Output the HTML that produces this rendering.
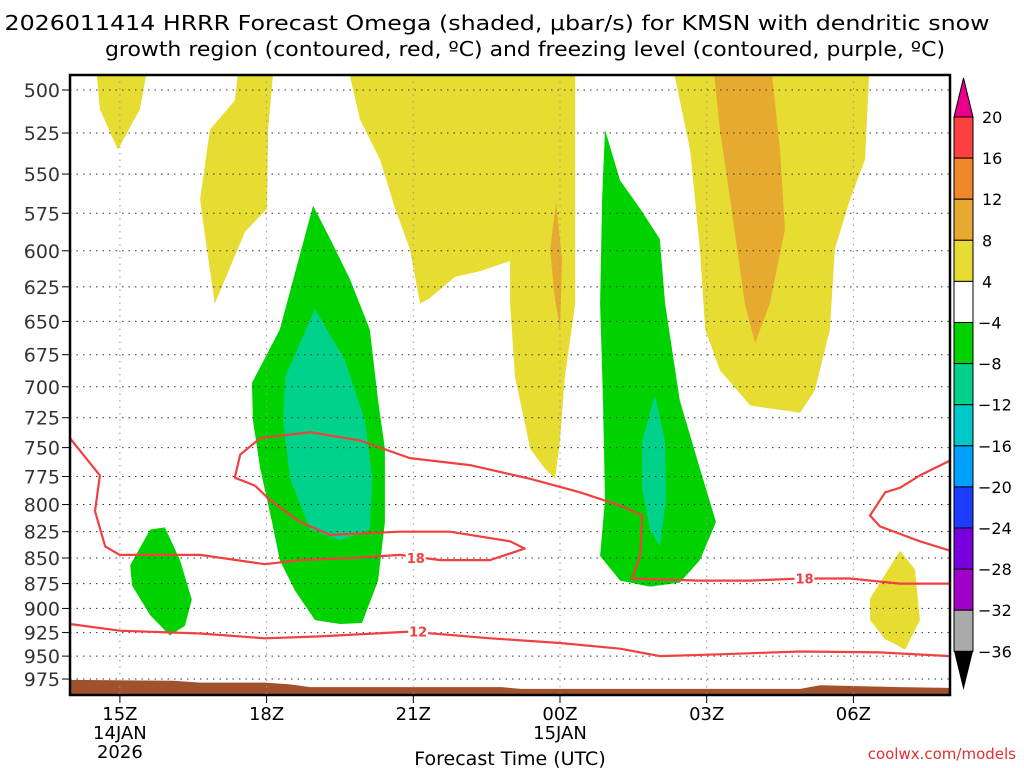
<!DOCTYPE html>
<html><head><meta charset="utf-8"><style>
body{margin:0;background:#fff;}
svg{display:block;font-family:"DejaVu Sans","Liberation Sans",sans-serif;}
</style></head><body>
<svg id="c" width="1024" height="768" viewBox="0 0 1024 768">
<text x="497" y="30" text-anchor="middle" font-size="20" textLength="985" lengthAdjust="spacingAndGlyphs">2026011414 HRRR Forecast Omega (shaded, μbar/s) for KMSN with dendritic snow</text>
<text x="525" y="56" text-anchor="middle" font-size="20" textLength="840" lengthAdjust="spacingAndGlyphs">growth region (contoured, red, ºC) and freezing level (contoured, purple, ºC)</text>
<defs><clipPath id="pc"><rect x="70" y="75" width="880" height="620"/></clipPath></defs>
<g id="shade" clip-path="url(#pc)"></g>
<g id="grid"></g>
<g id="cont" clip-path="url(#pc)"></g>
<rect x="70" y="75" width="880" height="620" fill="none" stroke="#000" stroke-width="2.5"/>
<g id="axes"></g>
<g id="cbar"></g>
<text x="510" y="765" text-anchor="middle" font-size="19">Forecast Time (UTC)</text>
<text x="1016" y="759" text-anchor="end" font-size="15" fill="#e03030">coolwx.com/models</text>
</svg>
<script>
const pLevels=[500,525,550,575,600,625,650,675,700,725,750,775,800,825,850,875,900,925,950,975];
const tHours=[1,4,7,10,13,16];
const tLabels=["15Z","18Z","21Z","00Z","03Z","06Z"];
const tSub=[["14JAN","2026"],[],[],["15JAN"],[],[]];
const cbLevels=["20","16","12","8","4","−4","−8","−12","−16","−20","−24","−28","−32","−36"];
const cbColors=["#ff4040","#f0882a","#e6aa30","#e6dc32","#ffffff","#00d200","#00d28c","#00c8c8","#00a0ff","#1e3cff","#7800dc","#a000c8","#aaaaaa"];
const yelA_h=[0.49,1.62,1.41,0.96,0.59], yelA_p=[480,480,511,535,511];
const yelB_h=[3.46,4.17,4.03,4.01,3.56,2.94,2.74,2.64,2.84,3.35], yelB_p=[480,480,523,572,587,637,590,566,523,506];
const yelC_h=[5.60,5.91,6.32,6.63,6.93,7.14,7.34,7.85,8.36,8.98,8.98,9.08,9.39,9.69,9.90,10.0,10.1,10.31,10.31], yelC_p=[480,517,541,572,599,637,633,618,614,607,637,692,751,768,777,744,692,637,480];
const yelD_h=[12.25,12.66,12.86,12.97,13.27,13.89,14.91,15.21,15.52,15.62,15.93,16.24,16.34], yelD_p=[480,535,599,656,687,715,721,703,656,599,566,541,480];
const yelE_h=[16.34,16.95,17.26,17.36,17.06,16.65,16.34], yelE_p=[890,843,861,912,943,932,912];
const orgC_h=[9.92,10.04,10.0,9.88,9.8], orgC_p=[568,606,657,629,599];
const orgD_h=[13.11,14.29,14.5,14.6,14.29,13.99,13.78,13.48,13.27], orgD_p=[480,480,535,586,637,666,637,566,523];
const grnF_h=[1.21,1.62,1.92,2.23,2.47,2.33,2.02,1.62,1.25], grnF_p=[857,823,821,852,891,918,928,907,877];
const grnG_h=[3.70,4.27,4.95,5.30,5.71,6.11,6.28,6.42,6.42,6.28,5.95,5.50,4.99,4.58,4.27,4.11,3.87,3.72], grnG_p=[697,656,570,592,620,656,711,751,816,872,915,916,912,882,852,816,768,727];
const tealG_h=[4.38,4.99,5.60,6.01,6.16,6.11,5.50,4.89,4.48,4.34], tealG_p=[692,641,679,727,777,823,833,823,777,727];
const grnH_h=[10.92,11.23,11.64,12.04,12.15,12.45,12.86,13.19,12.86,12.45,11.84,11.23,10.82,10.92,10.88,10.82,10.86], grnH_p=[523,554,572,592,637,711,768,816,852,874,878,872,848,796,711,637,566];
const tealH_h=[11.68,11.94,12.15,12.17,12.04,11.84,11.68], tealH_p=[744,707,744,796,839,823,786];
const ter_h=[-0.1,2.1,2.64,3.97,4.48,4.89,8.8,9.2,14.91,15.32,16.95,18.1,18.1,-0.1], ter_p=[976,977,979,979,981,984,984,986,986,982,984,985,1000,1000];
const c18a_h=[-0.02,0.59,0.49,0.70,1.0,2.64,3.97,4.68,5.71,6.73,7.55,8.57,9.28,8.98,7.75,6.73,5.30,4.68,4.07,3.76,3.35,3.46,3.87,4.89,5.91,6.93,8.16,9.39,10.41,11.23,11.68,11.64,11.47,12.86,13.89,14.91,15.93,16.95,17.98];
const c18a_p=[742,774,806,839,847,847,856,852,850,847,852,852,841,834,825,825,828,816,796,783,776,756,742,737,744,759,765,777,789,801,810,848,870,872,872,870,870,875,875];
const c18b_h=[17.98,17.36,16.95,16.65,16.34,16.54,17.36,17.98], c18b_p=[761,774,785,789,810,820,834,843];
const c12_h=[-0.02,1.0,2.64,3.97,5.09,6.93,8.57,10.0,11.23,12.04,13.27,14.91,16.54,17.98];
const c12_p=[916,923,926,931,929,924,931,936,942,950,948,945,946,950];
const X=h=>71+48.9*h, Y=p=>90+882*Math.log(p/500);
const NS="http://www.w3.org/2000/svg";
function mk(tag,parent){const e=document.createElementNS(NS,tag);document.getElementById(parent).appendChild(e);return e;}
function poly(hs,ps,fill,name){const e=mk('polygon','shade');e.setAttribute('points',hs.map((h,i)=>X(h).toFixed(1)+','+Y(ps[i]).toFixed(1)).join(' '));e.setAttribute('fill',fill);

}
poly(yelA_h,yelA_p,'#e6dc32','omega-4-8-region-a');
poly(yelB_h,yelB_p,'#e6dc32','omega-4-8-region-b');
poly(yelC_h,yelC_p,'#e6dc32','omega-4-8-region-c');
poly(yelD_h,yelD_p,'#e6dc32','omega-4-8-region-d');
poly(yelE_h,yelE_p,'#e6dc32','omega-4-8-region-e');
poly(orgC_h,orgC_p,'#e6aa30','omega-8-12-region-c');
poly(orgD_h,orgD_p,'#e6aa30','omega-8-12-region-d');
poly(grnF_h,grnF_p,'#00d200','omega-neg4-region-f');
poly(grnG_h,grnG_p,'#00d200','omega-neg4-region-g');
poly(tealG_h,tealG_p,'#00d28c','omega-neg8-region-g');
poly(grnH_h,grnH_p,'#00d200','omega-neg4-region-h');
poly(tealH_h,tealH_p,'#00d28c','omega-neg8-region-h');
poly(ter_h,ter_p,'#a0522d','terrain');
function line(hs,ps,name){const e=mk('polyline','cont');e.setAttribute('points',hs.map((h,i)=>X(h).toFixed(1)+','+Y(ps[i]).toFixed(1)).join(' '));e.setAttribute('fill','none');e.setAttribute('stroke','#f04040');e.setAttribute('stroke-width','2.2');e.setAttribute('stroke-linejoin','round');

}
line(c18a_h,c18a_p,'contour-minus18-main');
line(c18b_h,c18b_p,'contour-minus18-right');
line(c12_h,c12_p,'contour-minus12');
function clab(h,p,t,name){const r=mk('rect','cont');r.setAttribute('x',X(h)-10);r.setAttribute('y',Y(p)-7);r.setAttribute('width',20);r.setAttribute('height',14);r.setAttribute('fill','#fff');


const e=mk('text','cont');e.setAttribute('x',X(h));e.setAttribute('y',Y(p)+5);e.setAttribute('text-anchor','middle');e.setAttribute('font-size','13');e.setAttribute('font-weight','bold');e.setAttribute('fill','#f04040');e.textContent=t;

}
clab(7.05,850,'18','contour-label-18a');
clab(15.0,870,'18','contour-label-18b');
clab(7.1,924,'12','contour-label-12');
pLevels.forEach(p=>{const y=Y(p);const g=mk('line','grid');g.setAttribute('x1',70);g.setAttribute('x2',950);g.setAttribute('y1',y);g.setAttribute('y2',y);g.setAttribute('stroke','#333');g.setAttribute('stroke-dasharray','1.5 5');


const t=mk('line','axes');t.setAttribute('x1',62);t.setAttribute('x2',70);t.setAttribute('y1',y);t.setAttribute('y2',y);t.setAttribute('stroke','#000');


const l=mk('text','axes');l.setAttribute('x',60);l.setAttribute('y',y+7);l.setAttribute('text-anchor','end');l.setAttribute('font-size','19');l.setAttribute('fill','#333');l.textContent=p;

});
tHours.forEach((h,i)=>{const x=X(h);const g=mk('line','grid');g.setAttribute('x1',x);g.setAttribute('x2',x);g.setAttribute('y1',75);g.setAttribute('y2',695);g.setAttribute('stroke','#999');g.setAttribute('stroke-dasharray','1.5 5');


const t=mk('line','axes');t.setAttribute('x1',x);t.setAttribute('x2',x);t.setAttribute('y1',695);t.setAttribute('y2',703);t.setAttribute('stroke','#000');


[tLabels[i]].concat(tSub[i]).forEach((s,k)=>{const l=mk('text','axes');l.setAttribute('x',x);l.setAttribute('y',720+k*19);l.setAttribute('text-anchor','middle');l.setAttribute('font-size','18');l.textContent=s;

});});
const cx=954,cw=19,ct=117,ch=41.1;
cbColors.forEach((c,i)=>{const r=mk('rect','cbar');r.setAttribute('x',cx);r.setAttribute('y',ct+i*ch);r.setAttribute('width',cw);r.setAttribute('height',ch);r.setAttribute('fill',c);r.setAttribute('stroke','#000');

});
const cbTop=mk('polygon','cbar');cbTop.setAttribute('points',`${cx},${ct} ${cx+cw},${ct} ${cx+cw/2},78`);cbTop.setAttribute('fill','#e8008a');cbTop.setAttribute('stroke','#000');


const cbBot=mk('polygon','cbar');const yb=ct+13*ch;cbBot.setAttribute('points',`${cx},${yb} ${cx+cw},${yb} ${cx+cw/2},690`);cbBot.setAttribute('fill','#000');


cbLevels.forEach((s,i)=>{const l=mk('text','cbar');l.setAttribute('x',s.startsWith('−')?978:982);l.setAttribute('y',ct+i*ch+6);l.setAttribute('font-size','16');l.textContent=s;

});
</script>
</body></html>
